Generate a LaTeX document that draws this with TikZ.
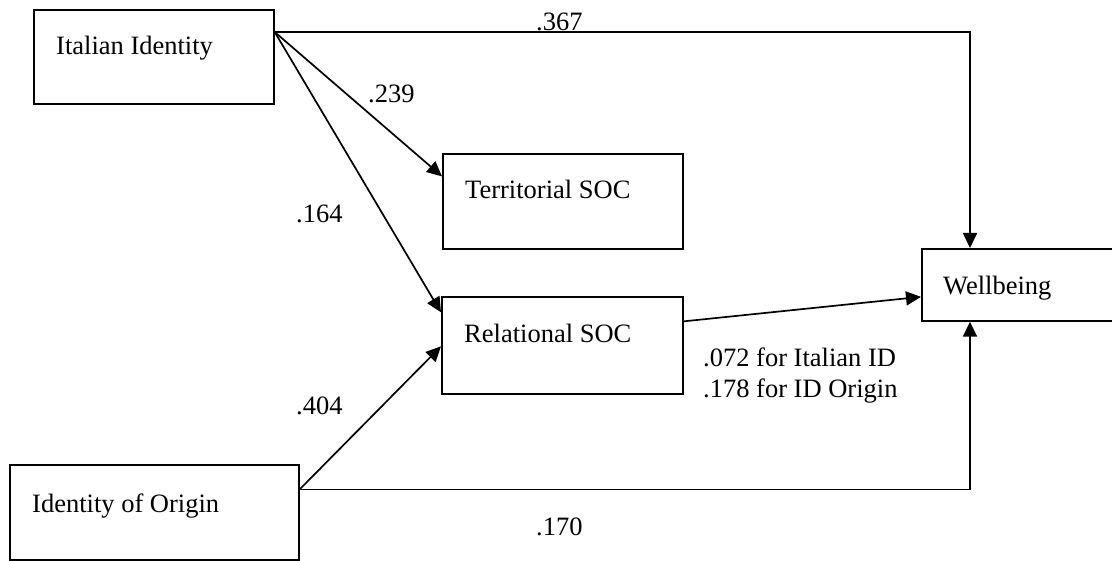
\documentclass[tikz,border=0pt]{standalone}
\usepackage{fontspec}
\setmainfont{Liberation Serif}
\usetikzlibrary{arrows.meta,calc}
\begin{document}
\begin{tikzpicture}[x=1pt,y=-1pt,
  box/.style={draw, line width=1.7pt, rectangle, inner sep=0pt, anchor=north west},
  lbl/.style={anchor=base west, inner sep=0pt, font=\fontsize{26.5}{31}\selectfont},
  conn/.style={line width=1.7pt},
  arr/.style={conn, -{Triangle[length=15pt,width=14pt]}}]
\useasboundingbox (0,0) rectangle (1112,561);
% boxes
\node[box, minimum width=240pt, minimum height=94pt] (ital) at (33,9) {};
\node[box, minimum width=240pt, minimum height=95pt] (terr) at (442,153) {};
\node[box, minimum width=241pt, minimum height=97pt] (rel) at (441,296) {};
\node[box, minimum width=193pt, minimum height=72pt] (well) at (921,248) {};
\node[box, minimum width=289pt, minimum height=95pt] (orig) at (9,464) {};
% box texts
\node[lbl] (tital) at (56,55) {Italian Identity};
\node[lbl] (tterr) at (465,199) {Territorial SOC};
\node[lbl] (trel) at (464,343) {Relational SOC};
\node[lbl] (twell) at (943,295) {Wellbeing};
\node[lbl] (torig) at (32,512) {Identity of Origin};
% connector end points
\coordinate (iS) at ([yshift=-23pt]ital.north east);
\coordinate (oS) at ([yshift=23pt]orig.east);
\coordinate (tIn) at ([yshift=25pt]terr.west);
\coordinate (rInI) at ([yshift=33pt]rel.west);
\coordinate (rInO) at ([yshift=-1pt]rel.west);
\coordinate (rOut) at ([yshift=24pt]rel.east);
\coordinate (wIn) at ([yshift=-12pt]well.west);
\coordinate (wT) at ([xshift=49pt]well.north west);
\coordinate (wB) at ([xshift=49pt]well.south west);
% connectors
\draw[arr] (iS) -- (iS -| wT) -- (wT);
\draw[arr] (iS) -- (tIn);
\draw[arr] (iS) -- (rInI);
\draw[arr] (oS) -- (rInO);
\draw[arr] (oS) -- (oS -| wB) -- (wB);
\draw[arr] (rOut) -- (wIn);
% coefficient labels
\node[lbl] (l367) at (536,31) {.367};
\node[lbl] (l239) at (368,103) {.239};
\node[lbl] (l164) at (296,223) {.164};
\node[lbl] (l404) at (296,415) {.404};
\node[lbl] (l170) at (536,535) {.170};
\node[lbl] (l072) at (703,367) {.072 for Italian ID};
\node[lbl] (l178) at (703,398) {.178 for ID Origin};
\end{tikzpicture}
\end{document}
